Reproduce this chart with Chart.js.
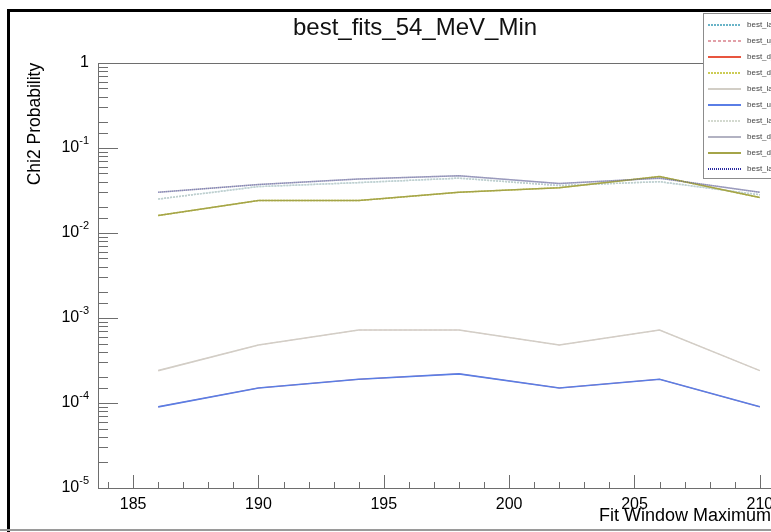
<!DOCTYPE html>
<html>
<head>
<meta charset="utf-8">
<script src="https://cdn.jsdelivr.net/npm/chart.js@4.4.1/dist/chart.umd.min.js"></script>
<style>
  html, body { margin: 0; padding: 0; background: #fff; overflow: hidden; width: 771px; height: 532px; }
  #cadre { position: absolute; left: 7px; top: 9px; width: 910px; height: 530px; border-left: 3px solid #000; border-top: 3px solid #000; }
  #graph { position: absolute; left: 0; top: 0; }
  #bas { position: absolute; left: 0; top: 529px; width: 771px; height: 2px; background: #9a9a9a; }
</style>
</head>
<body>
<div id="cadre"><canvas id="graph" width="898" height="520"></canvas></div>
<div id="bas"></div>
<script>
// valeurs
var fitMax = [186, 190, 194, 198, 202, 206, 210];

var probHaut      = [0.030, 0.037, 0.043, 0.047, 0.038, 0.044, 0.030];
var probBleuClair = [0.025, 0.035, 0.039, 0.044, 0.036, 0.040, 0.028];
var probOlive     = [0.016, 0.024, 0.024, 0.030, 0.034, 0.046, 0.026];
var probGris      = [2.4e-4, 4.8e-4, 7.2e-4, 7.2e-4, 4.8e-4, 7.2e-4, 2.4e-4];
var probBleu      = [9.0e-5, 1.5e-4, 1.9e-4, 2.2e-4, 1.5e-4, 1.9e-4, 9.0e-5];

var nomsCourbes = [
  "best_lambda_fit_1", "best_u_fit_1", "best_d_fit_1", "best_d_fit_2", "best_lambda_fit_2",
  "best_u_fit_2", "best_lambda_fit_3", "best_d_fit_3", "best_d_fit_4", "best_lambda_fit_4"
];

var xTicks = [185, 190, 195, 200, 205, 210];
var yTicks = [1e-5, 1e-4, 1e-3, 1e-2, 1e-1, 1];
var yExposants = ["-5", "-4", "-3", "-2", "-1", ""];

var police = '"Liberation Sans", Arial, Helvetica, sans-serif';

function courbe(nom, valeurs, couleur, tirets, epaisseur, couleurLegende) 
{
  return {
    label: nom,
    data: fitMax.map(function (x, i) { return { x: x, y: valeurs[i] }; }),
    borderColor: couleur,
    couleurLegende: couleurLegende || couleur,
    borderWidth: epaisseur || 1.5,
    borderDash: tirets,
    pointRadius: 0,
    fill: false,
    tension: 0
  };
}

var courbes = [
  courbe(nomsCourbes[0], probBleuClair, "rgba(110,175,215,0.6)", [2, 1], 1.5, "#6ab4c8"),
  courbe(nomsCourbes[1], probGris, "rgba(225,150,160,0.5)", [3, 2], 1, "#e2a0a8"),
  courbe(nomsCourbes[2], probBleu, "#e8553f", [], 0.8),
  courbe(nomsCourbes[3], probOlive, "#cccc55", [2, 1]),
  courbe(nomsCourbes[4], probGris, "#d2cec6", [], 1.6),
  courbe(nomsCourbes[5], probBleu, "#5a7ee6", [], 1.6),
  courbe(nomsCourbes[6], probBleuClair, "rgba(200,208,195,0.8)", [2, 1]),
  courbe(nomsCourbes[7], probHaut, "#b2b2c2", []),
  courbe(nomsCourbes[8], probOlive, "#a4a448", []),
  courbe(nomsCourbes[9], probHaut, "rgba(60,60,170,0.4)", [1, 1], 1.5, "#2a2aa0")
];
// comme ROOT : la derniere courbe dessinee passe dessus
courbes.forEach(function (c, i) { c.order = courbes.length - i; });

function estDecade(v) 
{
  for (var k = 0; k < yTicks.length; k++) 
  {
    if (Math.abs(v / yTicks[k] - 1) < 1e-6) return k;
  }
  return -1;
}

var axesRoot = {
  id: "axesRoot",
  afterDraw: function (chart) 
  {
    var ctx = chart.ctx;
    var a = chart.chartArea;
    var sx = chart.scales.x;
    var sy = chart.scales.y;
    ctx.save();

    // cadre + graduations vers l'interieur
    ctx.strokeStyle = "#6e6e6e";
    ctx.lineWidth = 1;
    ctx.strokeRect(Math.round(a.left) + 0.5, Math.round(a.top) + 0.5, Math.round(a.right - a.left), Math.round(a.bottom - a.top));
    ctx.beginPath();
    sx.ticks.forEach(function (t) 
    {
      var px = Math.round(sx.getPixelForValue(t.value)) + 0.5;
      var l = xTicks.indexOf(t.value) >= 0 ? 13 : 6;
      ctx.moveTo(px, a.bottom);
      ctx.lineTo(px, a.bottom - l);
    });
    sy.ticks.forEach(function (t) 
    {
      var py = Math.round(sy.getPixelForValue(t.value)) + 0.5;
      var l = estDecade(t.value) >= 0 ? 20 : 10;
      ctx.moveTo(a.left, py);
      ctx.lineTo(a.left + l, py);
    });
    ctx.stroke();

    // etiquettes de l'axe y : 10 avec exposant
    ctx.fillStyle = "#000";
    ctx.textBaseline = "middle";
    ctx.textAlign = "right";
    yTicks.forEach(function (v, k) 
    {
      var py = sy.getPixelForValue(v);
      var xd = a.left - 9;
      if (yExposants[k] === "") 
      {
        ctx.font = "16px " + police;
        ctx.fillText("1", xd, py);
        return;
      }
      ctx.font = "11px " + police;
      var we = ctx.measureText(yExposants[k]).width;
      ctx.fillText(yExposants[k], xd, py - 7);
      ctx.font = "16px " + police;
      ctx.fillText("10", xd - we, py);
    });

    // titre axe x, cale a droite de la fenetre
    ctx.font = "18px " + police;
    ctx.fillText("Fit Window Maximum", a.right - 49, 504);

    // legende
    var lx = 693, ly = 1, lw = 200, lh = 165;
    ctx.fillStyle = "#fff";
    ctx.fillRect(lx, ly, lw, lh);
    ctx.strokeStyle = "#8c8c8c";
    ctx.strokeRect(lx + 0.5, ly + 0.5, lw, lh);
    chart.data.datasets.forEach(function (ds, i) 
    {
      var y = ly + 12 + i * 16;
      ctx.setLineDash(ds.borderDash.length ? ds.borderDash : []);
      ctx.strokeStyle = ds.couleurLegende;
      ctx.lineWidth = 2;
      ctx.beginPath();
      ctx.moveTo(lx + 5, y);
      ctx.lineTo(lx + 38, y);
      ctx.stroke();
      ctx.setLineDash([]);
      ctx.fillStyle = "#444";
      ctx.font = "8px " + police;
      ctx.textAlign = "left";
      ctx.fillText(ds.label, lx + 44, y);
    });
    ctx.restore();
  }
};

new Chart(document.getElementById("graph"), 
{
  type: "line",
  data: { datasets: courbes },
  plugins: [axesRoot],
  options: 
  {
    responsive: false,
    animation: false,
    layout: { padding: { left: 0, right: 88, top: 0, bottom: 0 } },
    plugins: 
    {
      legend: { display: false },
      tooltip: { enabled: false },
      title: 
      {
        display: true,
        text: "best_fits_54_MeV_Min",
        color: "#111",
        font: { family: police, size: 24, weight: "normal" },
        padding: { top: 2, bottom: 20 }
      }
    },
    scales: 
    {
      x: 
      {
        type: "linear",
        min: 183.6,
        max: 212.4,
        grid: { display: false, drawTicks: false },
        border: { display: false },
        ticks: 
        {
          stepSize: 1,
          includeBounds: false,
          autoSkip: false,
          maxRotation: 0,
          padding: 7,
          color: "#000",
          font: { family: police, size: 16 },
          callback: function (v) { return xTicks.indexOf(v) >= 0 ? String(v) : ""; }
        },
        afterFit: function (s) { s.height = 44; }
      },
      y: 
      {
        type: "logarithmic",
        min: 1e-5,
        max: 1,
        grid: { display: false, drawTicks: false },
        border: { display: false },
        title: 
        {
          display: true,
          text: "Chi2 Probability",
          align: "end",
          color: "#000",
          font: { family: police, size: 17.5 },
          padding: { top: 14.5, bottom: 0 }
        },
        ticks: 
        {
          autoSkip: false,
          padding: 9,
          callback: function () { return ""; }
        },
        afterFit: function (s) { s.width = 88; }
      }
    }
  }
});
</script>
</body>
</html>
